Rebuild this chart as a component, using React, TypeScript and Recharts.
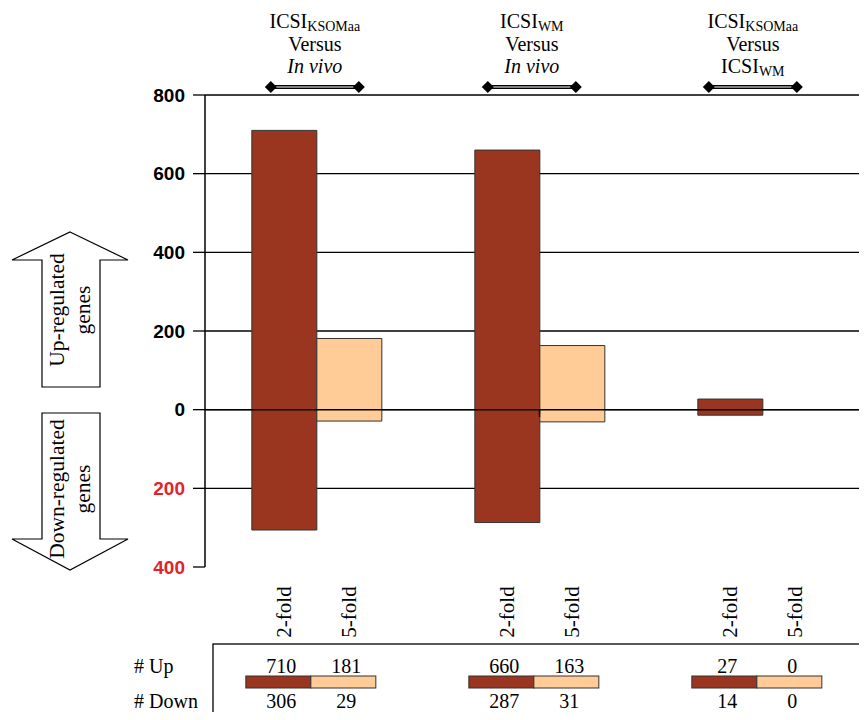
import React from 'react';
import { BarChart, Bar, XAxis, YAxis, CartesianGrid, ReferenceLine, LabelList } from 'recharts';

const groups = ['KSOMaa vs In vivo', 'WM vs In vivo', 'KSOMaa vs WM'];
const titleTopSub = ['KSOMaa', 'WM', 'KSOMaa'];
const titleMiddle = ['Versus', 'Versus', 'Versus'];
const titleBottom = ['In vivo', 'In vivo', 'ICSI'];
const titleBottomSub = ['', '', 'WM'];
const titleBottomItalic = [true, true, false];
const titleNudge = [-2, -8, -10];
const foldLabels = ['2-fold', '5-fold'];
const up2 = [710, 660, 27];
const down2 = [306, 287, 14];
const up5 = [181, 163, 0];
const down5 = [29, 31, 0];
const yTicks = [-400, -200, 0, 200, 400, 600, 800];
const gridValues = [-200, 0, 200, 400, 600, 800];
const groupBoundaries = [1, 2];

const DARK = '#9A3520';
const LIGHT = '#FFCB96';
const SERIF = '"Liberation Serif", "DejaVu Serif", serif';
const SANS = '"Liberation Sans", Arial, sans-serif';

const data = groups.map((g, i) => ({
  name: g,
  twoFold: [-down2[i], up2[i]],
  fiveFold: [-down5[i], up5[i]],
}));

const YTick = (props: any) => {
  const { x, y, payload } = props;
  const v = payload.value;
  return (
    <text x={x} y={y} textAnchor="end" dominantBaseline="central" fontFamily={SANS} fontWeight="bold" fontSize={19} fill={v < 0 ? '#E3232B' : '#000'}>
      {Math.abs(v)}
    </text>
  );
};

const foldCell = (fold: number, x: number, width: number, up: number, down: number) => {
  const cx = x + width / 2;
  return (
    <g key={fold}>
      <text transform={`translate(${cx},612) rotate(-90)`} textAnchor="middle" dominantBaseline="central" fontFamily={SERIF} fontSize={21} fill="#000">
        {foldLabels[fold]}
      </text>
      <text x={cx - 3} y={673} textAnchor="middle" fontFamily={SERIF} fontSize={20} fill="#000">{up}</text>
      <rect x={x - 6} y={676} width={width} height={12} fill={fold === 0 ? DARK : LIGHT} stroke="#333" strokeWidth={1} />
      <text x={cx - 3} y={708} textAnchor="middle" fontFamily={SERIF} fontSize={20} fill="#000">{down}</text>
    </g>
  );
};

const GroupLabel = (props: any) => {
  const x = Number(props.x);
  const width = Number(props.width);
  const index = props.index;
  const gx = x + width + titleNudge[index];
  return (
    <g>
      {foldCell(0, x, width, up2[index], down2[index])}
      {foldCell(1, x + width, width, up5[index], down5[index])}
      <text x={gx} y={28} textAnchor="middle" fontFamily={SERIF} fontSize={20} fill="#000">
        ICSI<tspan fontSize={14} dy={3}>{titleTopSub[index]}</tspan>
      </text>
      <text x={gx} y={51} textAnchor="middle" fontFamily={SERIF} fontSize={20} fill="#000">{titleMiddle[index]}</text>
      <text x={gx} y={73} textAnchor="middle" fontFamily={SERIF} fontSize={20} fontStyle={titleBottomItalic[index] ? 'italic' : 'normal'} fill="#000">
        {titleBottom[index]}
        {titleBottomSub[index] && <tspan fontSize={14} dy={3}>{titleBottomSub[index]}</tspan>}
      </text>
      <line x1={gx - 44} x2={gx + 44} y1={87} y2={87} stroke="#000" strokeWidth={4} />
      <line x1={gx - 44} x2={gx + 44} y1={87} y2={87} stroke="#fff" strokeWidth={1.2} />
      <path d={`M${gx - 44},81 L${gx - 38},87 L${gx - 44},93 L${gx - 50},87 Z`} fill="#000" />
      <path d={`M${gx + 44},81 L${gx + 50},87 L${gx + 44},93 L${gx + 38},87 Z`} fill="#000" />
    </g>
  );
};

const Overlay = () => (
  <svg width={867} height={720} style={{ position: 'absolute', left: 0, top: 0, pointerEvents: 'none' }}>
    <polygon points="70,232 128,260 100,260 100,387 42,387 42,260 12,260" fill="#fff" stroke="#000" strokeWidth={1.2} />
    <polygon points="42,413 100,413 100,539 128,539 70,570 12,539 42,539" fill="#fff" stroke="#000" strokeWidth={1.2} />
    <text transform="translate(57,310) rotate(-90)" textAnchor="middle" dominantBaseline="central" fontFamily={SERIF} fontSize={21.5}>Up-regulated</text>
    <text transform="translate(83,310) rotate(-90)" textAnchor="middle" dominantBaseline="central" fontFamily={SERIF} fontSize={21.5}>genes</text>
    <text transform="translate(57,489) rotate(-90)" textAnchor="middle" dominantBaseline="central" fontFamily={SERIF} fontSize={21.5}>Down-regulated</text>
    <text transform="translate(83,489) rotate(-90)" textAnchor="middle" dominantBaseline="central" fontFamily={SERIF} fontSize={21.5}>genes</text>
    <rect x={213} y={644} width={700} height={100} fill="none" stroke="#000" strokeWidth={1.3} />
    <text x={134} y={673} fontFamily={SERIF} fontSize={20}># Up</text>
    <text x={134} y={708} fontFamily={SERIF} fontSize={20}># Down</text>
  </svg>
);

export default function App() {
  return (
    <div style={{ position: 'relative', width: 867, height: 720, margin: -8, overflow: 'hidden', background: '#fff' }}>
      <BarChart width={880} height={720} data={data} margin={{ top: 95, right: 6, left: 0, bottom: 153 }} barCategoryGap="21%" barGap={0}>
        <CartesianGrid horizontal vertical={false} horizontalValues={gridValues} stroke="#000" strokeWidth={1.3} />
        <XAxis dataKey="name" hide />
        <XAxis xAxisId="b" type="number" domain={[0, 3]} hide />
        <YAxis
          type="number"
          domain={[-400, 800]}
          ticks={yTicks}
          width={205}
          tickSize={12}
          tickMargin={8}
          tick={<YTick />}
          axisLine={{ stroke: '#000', strokeWidth: 1.5 }}
          tickLine={{ stroke: '#000', strokeWidth: 1.3 }}
          interval={0}
        />
        <Bar dataKey="twoFold" fill={DARK} stroke="#333" strokeWidth={1} isAnimationActive={false}>
          <LabelList content={<GroupLabel />} />
        </Bar>
        <Bar dataKey="fiveFold" fill={LIGHT} stroke="#333" strokeWidth={1} isAnimationActive={false} />
        <ReferenceLine y={0} stroke="#000" strokeWidth={1.5} />
        {groupBoundaries.map((b) => (
          <ReferenceLine key={b} xAxisId="b" segment={[{ x: b, y: 0 }, { x: b, y: -18 }]} stroke="#000" strokeWidth={1.5} />
        ))}
      </BarChart>
      <Overlay />
    </div>
  );
}
